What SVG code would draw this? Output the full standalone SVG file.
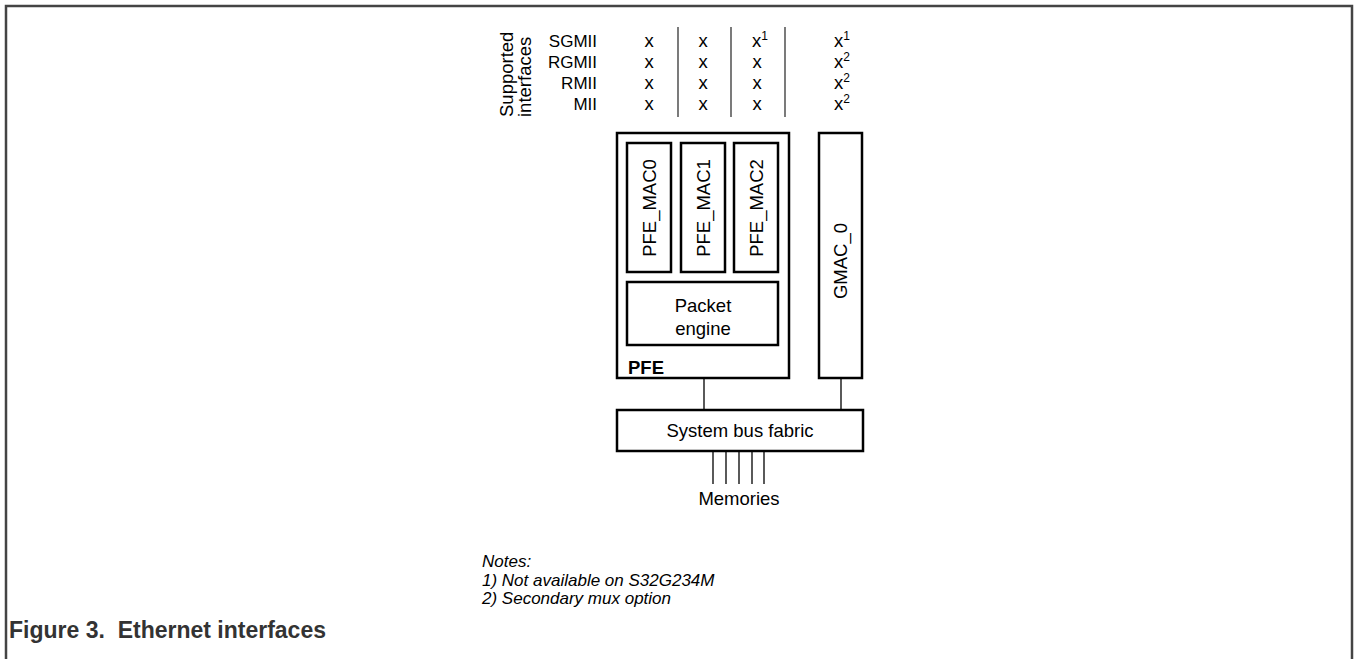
<svg xmlns="http://www.w3.org/2000/svg" width="1354" height="659" viewBox="0 0 1354 659">
<style>
.t{font-family:"Liberation Sans",Arial,sans-serif;font-size:18.5px;fill:#000}
.r{font-size:17px}
.box{fill:#fff;stroke:#000;stroke-width:2.5}
.ln{stroke:#000;stroke-width:1.3;fill:none}
.sep{stroke:#333;stroke-width:1.3}
.it{font-family:"Liberation Sans",Arial,sans-serif;font-size:17px;font-style:italic;fill:#000}
.sup{font-size:12px}
</style>
<rect width="1354" height="659" fill="#fff"/>
<path d="M6 659 V6 H1352 V659" fill="none" stroke="#444" stroke-width="2.5"/>
<g id="interfaces-table">
<text class="t" transform="translate(513,117) rotate(-90)">Supported</text>
<text class="t" transform="translate(531,117) rotate(-90)">interfaces</text>
<g text-anchor="end">
<text class="t r" x="597" y="47">SGMII</text>
<text class="t r" x="597" y="68">RGMII</text>
<text class="t r" x="597" y="89">RMII</text>
<text class="t r" x="597" y="110">MII</text>
</g>
<g text-anchor="middle">
<text class="t" x="649" y="47">x</text>
<text class="t" x="649" y="68">x</text>
<text class="t" x="649" y="89">x</text>
<text class="t" x="649" y="110">x</text>
<text class="t" x="703" y="47">x</text>
<text class="t" x="703" y="68">x</text>
<text class="t" x="703" y="89">x</text>
<text class="t" x="703" y="110">x</text>
<text class="t" x="757" y="68">x</text>
<text class="t" x="757" y="89">x</text>
<text class="t" x="757" y="110">x</text>
</g>
<text class="t" x="752" y="47">x<tspan class="sup" dy="-7">1</tspan></text>
<text class="t" x="834" y="47">x<tspan class="sup" dy="-7">1</tspan></text>
<text class="t" x="834" y="68">x<tspan class="sup" dy="-7">2</tspan></text>
<text class="t" x="834" y="89">x<tspan class="sup" dy="-7">2</tspan></text>
<text class="t" x="834" y="110">x<tspan class="sup" dy="-7">2</tspan></text>
<line class="sep" x1="678" y1="27" x2="678" y2="117"/>
<line class="sep" x1="731" y1="27" x2="731" y2="117"/>
<line class="sep" x1="785" y1="27" x2="785" y2="117"/>
</g>
<g id="connectors">
<line class="ln" x1="704" y1="378" x2="704" y2="410"/>
<line class="ln" x1="841" y1="378" x2="841" y2="410"/>
<line class="ln" x1="713" y1="452" x2="713" y2="484"/>
<line class="ln" x1="726" y1="452" x2="726" y2="484"/>
<line class="ln" x1="739" y1="452" x2="739" y2="484"/>
<line class="ln" x1="752" y1="452" x2="752" y2="484"/>
<line class="ln" x1="764" y1="452" x2="764" y2="484"/>
</g>
<g id="pfe">
<rect class="box" x="617" y="133" width="172" height="245"/>
<text class="t" x="628" y="374" font-weight="bold">PFE</text>
</g>
<g id="pfe-mac0">
<rect class="box" x="627" y="143" width="44" height="129"/>
<text class="t" text-anchor="middle" transform="translate(656,208) rotate(-90)">PFE_MAC0</text>
</g>
<g id="pfe-mac1">
<rect class="box" x="681" y="143" width="44" height="129"/>
<text class="t" text-anchor="middle" transform="translate(710,208) rotate(-90)">PFE_MAC1</text>
</g>
<g id="pfe-mac2">
<rect class="box" x="734" y="143" width="44" height="129"/>
<text class="t" text-anchor="middle" transform="translate(763,208) rotate(-90)">PFE_MAC2</text>
</g>
<g id="packet-engine">
<rect class="box" x="627" y="282" width="151" height="63"/>
<text class="t" text-anchor="middle" x="703" y="312">Packet</text>
<text class="t" text-anchor="middle" x="703" y="335">engine</text>
</g>
<g id="gmac0">
<rect class="box" x="819" y="133" width="43" height="245"/>
<text class="t" text-anchor="middle" transform="translate(847,261) rotate(-90)">GMAC_0</text>
</g>
<g id="system-bus">
<rect class="box" x="617" y="410" width="246" height="41"/>
<text class="t" text-anchor="middle" x="740" y="437">System bus fabric</text>
</g>
<g id="memories">
<text class="t" text-anchor="middle" x="739" y="505">Memories</text>
</g>
<g id="notes">
<text class="it" x="482" y="567">Notes:</text>
<text class="it" x="482" y="586">1) Not available on S32G234M</text>
<text class="it" x="482" y="604">2) Secondary mux option</text>
</g>
<text x="9" y="638" xml:space="preserve" font-family="Liberation Sans,Arial,sans-serif" font-size="23" font-weight="bold" fill="#333">Figure 3.  Ethernet interfaces</text>
</svg>
